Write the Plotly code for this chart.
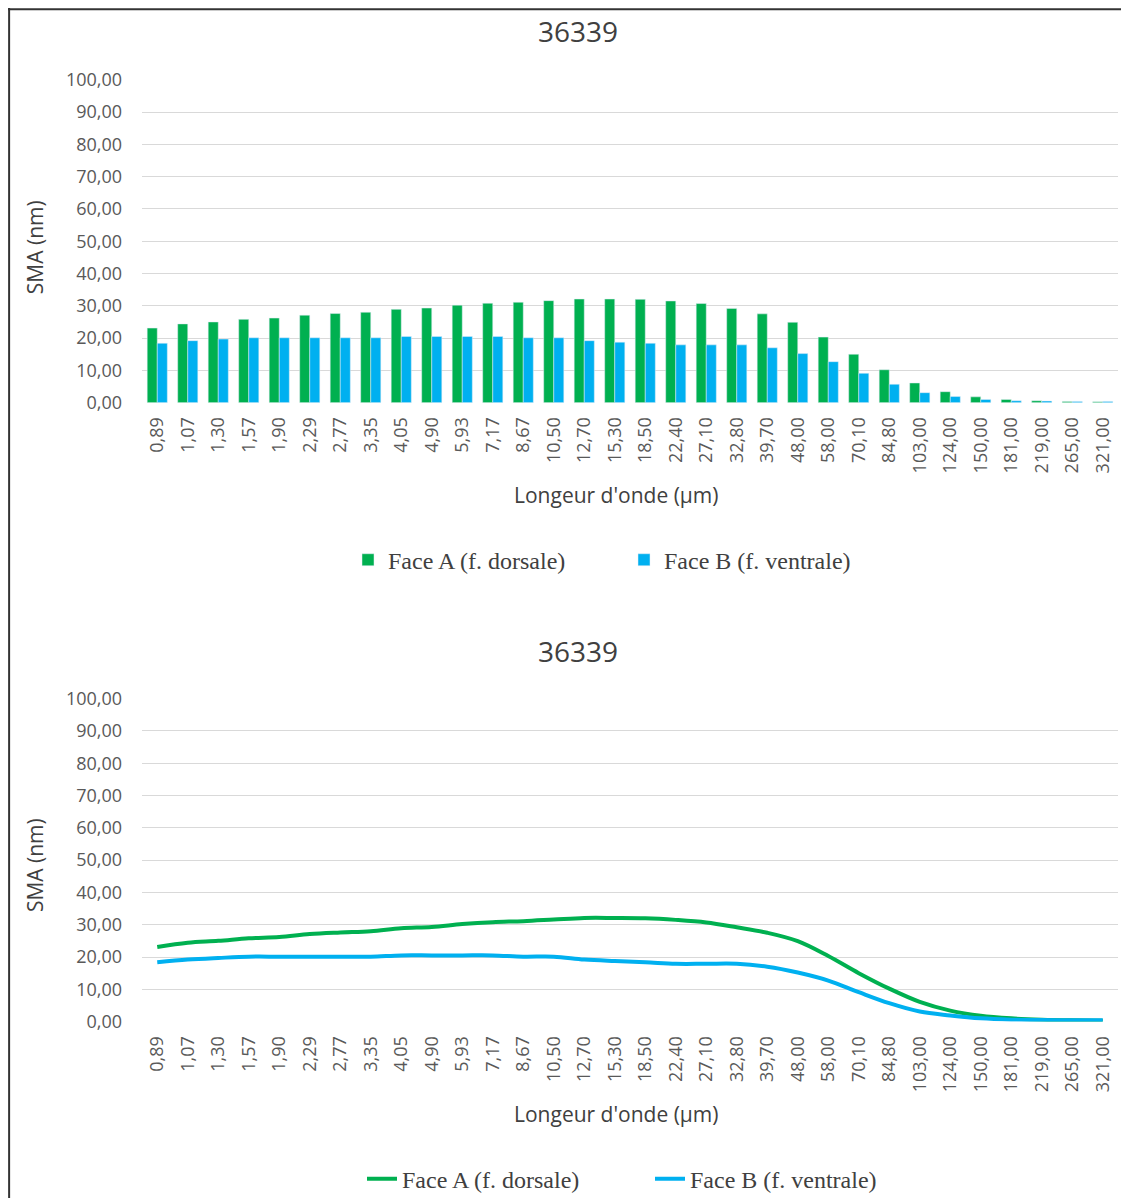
import plotly.graph_objects as go

categories = ["0,89", "1,07", "1,30", "1,57", "1,90", "2,29", "2,77", "3,35", "4,05", "4,90",
              "5,93", "7,17", "8,67", "10,50", "12,70", "15,30", "18,50", "22,40", "27,10", "32,80",
              "39,70", "48,00", "58,00", "70,10", "84,80", "103,00", "124,00", "150,00", "181,00",
              "219,00", "265,00", "321,00"]
face_a = [23.1, 24.4, 25.0, 25.8, 26.2, 27.1, 27.6, 28.0, 28.9, 29.3, 30.2, 30.8, 31.1, 31.6, 32.1,
          32.1, 32.0, 31.5, 30.7, 29.2, 27.5, 24.9, 20.3, 15.0, 10.2, 6.1, 3.4, 1.8, 1.0, 0.6, 0.4, 0.3]
face_b = [18.4, 19.2, 19.7, 20.1, 20.1, 20.1, 20.1, 20.1, 20.5, 20.5, 20.5, 20.5, 20.1, 20.1, 19.2,
          18.75, 18.4, 17.9, 17.9, 17.9, 17.0, 15.2, 12.7, 9.1, 5.7, 3.1, 1.9, 1.0, 0.6, 0.5, 0.4, 0.4]
y_ticks = list(range(0, 101, 10))
y_tick_labels = [f"{v},00" for v in y_ticks]

name_a = "Face A (f. dorsale)"
name_b = "Face B (f. ventrale)"
title = "36339"
x_title = "Longeur d'onde (µm)"
y_title = "SMA (nm)"

GREEN = "#00B050"
BLUE = "#00B0F0"
OFF = 8  # page body margin
W, H = 1129 - OFF, 1202 - OFF

fig = go.Figure()
fig.add_trace(go.Bar(x=categories, y=face_a, name=name_a, marker_color=GREEN,
                     xaxis="x", yaxis="y", legend="legend"))
fig.add_trace(go.Bar(x=categories, y=face_b, name=name_b, marker_color=BLUE,
                     xaxis="x", yaxis="y", legend="legend"))
fig.add_trace(go.Scatter(x=categories, y=face_a, name=name_a, mode="lines",
                         line=dict(color=GREEN, width=4, shape="spline", smoothing=1.0),
                         xaxis="x2", yaxis="y2", legend="legend2"))
fig.add_trace(go.Scatter(x=categories, y=face_b, name=name_b, mode="lines",
                         line=dict(color=BLUE, width=4, shape="spline", smoothing=1.0),
                         xaxis="x2", yaxis="y2", legend="legend2"))


def px_x(v):
    return (v - OFF) / W


def px_y(v):
    return 1 - (v - OFF) / H


tick_font = dict(family="Open Sans", size=18, color="#595959")
xdom = [px_x(142), px_x(1118)]
x_range = [-0.5, len(categories) - 0.5]

xaxis_common = dict(type="category", domain=xdom, range=x_range, tickangle=-90,
                    tickfont=tick_font, showgrid=False, showline=False, ticks="",
                    ticklabelstandoff=10, automargin=False, fixedrange=True)
yaxis_common = dict(range=[0, 100], tickvals=y_ticks, ticktext=y_tick_labels, tickfont=tick_font,
                    showgrid=True, gridcolor="#D9D9D9", gridwidth=1, zeroline=False,
                    showline=False, ticks="", ticklabelstandoff=19, automargin=False)

legend_font = dict(family="Liberation Serif", size=24, color="#404040")
fig.update_layout(
    width=W, height=H, autosize=False,
    margin=dict(l=0, r=0, t=0, b=0),
    paper_bgcolor="white", plot_bgcolor="white",
    barmode="group", bargap=0.34, bargroupgap=0.0,
    xaxis=dict(**xaxis_common, anchor="y"),
    yaxis=dict(**yaxis_common, domain=[px_y(404), px_y(80)], anchor="x"),
    xaxis2=dict(**xaxis_common, anchor="y2"),
    yaxis2=dict(**yaxis_common, domain=[px_y(1025), px_y(701)], anchor="x2"),
    legend=dict(orientation="h", x=px_x(348), y=px_y(562), xanchor="left", yanchor="middle",
                font=legend_font, entrywidth=231, entrywidthmode="pixels",
                bgcolor="rgba(0,0,0,0)"),
    legend2=dict(orientation="h", x=px_x(362), y=px_y(1183), xanchor="left", yanchor="middle",
                 font=legend_font, entrywidth=243, entrywidthmode="pixels",
                 bgcolor="rgba(0,0,0,0)"),
    showlegend=True,
)

ann_font_title = dict(family="Open Sans", size=28, color="#404040")
ann_font_axis = dict(family="Open Sans", size=21, color="#404040")
for ty, xy, yy in [(31, 497, 248), (653, 1118, 868)]:
    fig.add_annotation(text=title, x=px_x(578), y=px_y(ty), xref="paper", yref="paper",
                       showarrow=False, font=ann_font_title, xanchor="center", yanchor="middle")
    fig.add_annotation(text=x_title, x=px_x(616), y=px_y(xy), xref="paper", yref="paper",
                       showarrow=False, font=ann_font_axis, xanchor="center", yanchor="middle")
    fig.add_annotation(text=y_title, x=px_x(35), y=px_y(yy), xref="paper", yref="paper",
                       showarrow=False, font=ann_font_axis, textangle=-90,
                       xanchor="center", yanchor="middle")

# frame (left and top edges)
fig.add_shape(type="line", xref="paper", yref="paper", x0=0.001, x1=0.001, y0=0, y1=1,
              line=dict(color="#333333", width=2))
fig.add_shape(type="line", xref="paper", yref="paper", x0=0, x1=1, y0=0.999, y1=0.999,
              line=dict(color="#333333", width=2))

fig.write_html("out.html")
